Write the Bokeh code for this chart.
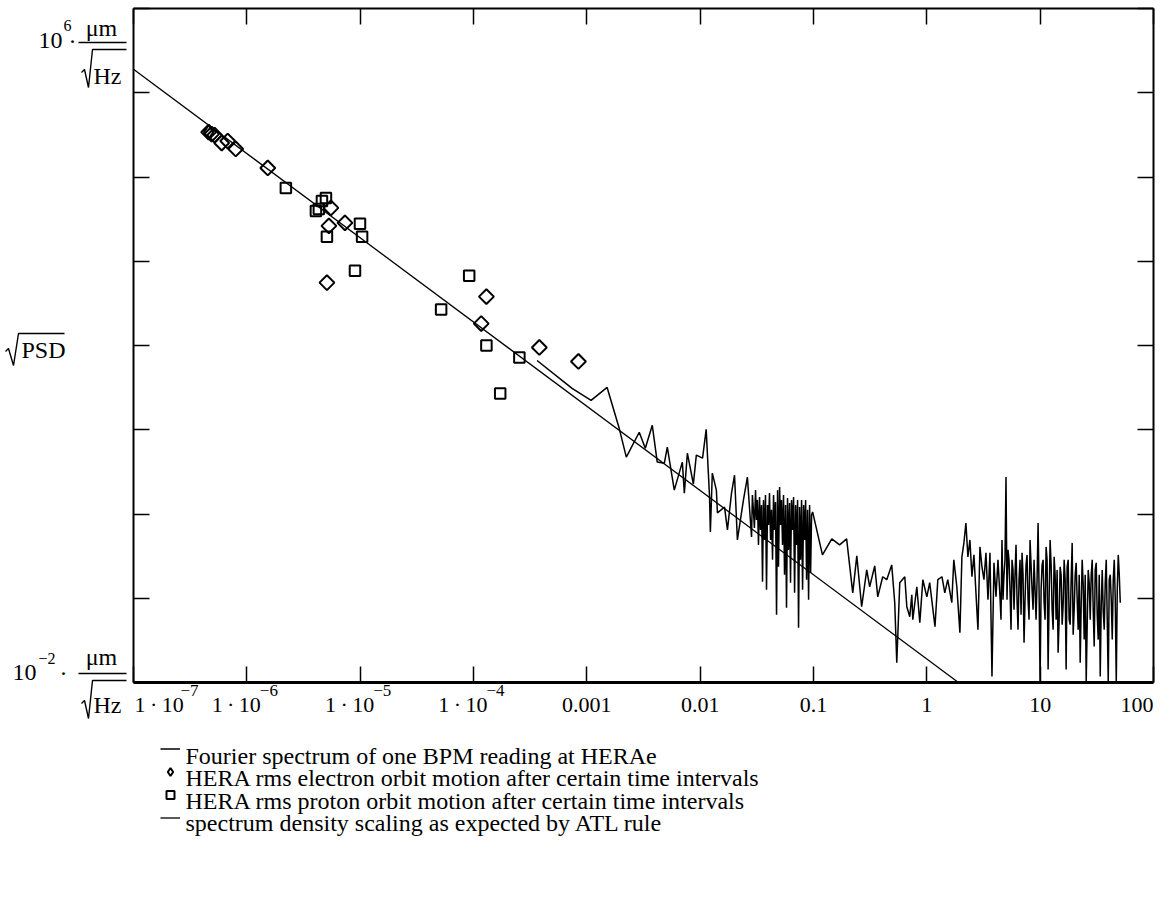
import math
from bokeh.plotting import figure
from bokeh.models import (Range1d, LogAxis, FixedTicker, Label, Legend, LegendItem,
                          PolyAnnotation)
from bokeh.embed import file_html
from bokeh.resources import INLINE

FONT = "Liberation Serif"

# ---------------- data ----------------
X_TICKS = [1e-7, 1e-6, 1e-5, 1e-4, 1e-3, 1e-2, 1e-1, 1, 10, 100]
X_TICK_BASE = ["1\u2009·\u200910", "1\u2009·\u200910", "1\u2009·\u200910", "1\u2009·\u200910",
               "0.001", "0.01", "0.1", "1", "10", "100"]
X_TICK_EXP = ["\u22127", "\u22126", "\u22125", "\u22124", "", "", "", "", "", ""]
Y_TICKS = [1e-2, 1e-1, 1, 10, 100, 1e3, 1e4, 1e5, 1e6]

# Fourier spectrum of one BPM reading (Hz, um/sqrt(Hz))
SPEC_FREQ = [
    3.64e-4, 7.41e-4, 1.09e-3, 1.51e-3, 1.93e-3, 2.23e-3, 2.90e-3, 3.28e-3, 3.78e-3, 4.18e-3,
    4.83e-3, 5.13e-3, 5.91e-3, 6.96e-3, 7.25e-3, 7.71e-3, 8.71e-3, 9.25e-3, 0.0105, 0.0113,
    0.0121, 0.0123, 0.0128, 0.0139, 0.0142, 0.0164, 0.0174, 0.0189, 0.0201, 0.0213,
    0.0241, 0.0261, 0.0284,
    0.0289, 0.0295, 0.0301, 0.0308, 0.0314, 0.0320, 0.0327, 0.0334, 0.0341, 0.0348,
    0.0355, 0.0362, 0.0370, 0.0377, 0.0385, 0.0393, 0.0401, 0.0409, 0.0418, 0.0426,
    0.0435, 0.0444, 0.0453, 0.0462, 0.0472, 0.0482, 0.0491, 0.0502, 0.0512, 0.0522,
    0.0533, 0.0544, 0.0555, 0.0567, 0.0578, 0.0590, 0.0602, 0.0615, 0.0627, 0.0640,
    0.0654, 0.0667, 0.0681, 0.0695, 0.0709, 0.0724, 0.0738, 0.0754, 0.0769, 0.0785,
    0.0801, 0.0818, 0.0834, 0.0852, 0.0869, 0.0887, 0.0905, 0.0924, 0.0943, 0.0962,
    0.0982,
    0.120, 0.145, 0.170, 0.196, 0.222, 0.241, 0.266, 0.295,
    0.313, 0.347, 0.369, 0.408, 0.443, 0.490, 0.521, 0.543, 0.577, 0.639,
    0.666, 0.707, 0.737, 0.752, 0.816, 0.867, 0.922, 1.00, 1.06, 1.18,
    1.25, 1.36, 1.44, 1.53, 1.66, 1.73, 1.84,
    1.958, 2.039, 2.124, 2.212, 2.304, 2.400, 2.500, 2.604, 2.712, 2.825,
    2.942, 3.064, 3.192, 3.324, 3.463, 3.606, 3.756, 3.912, 4.075, 4.244,
    4.420, 4.511, 4.604, 4.699, 4.796, 4.894, 4.995, 5.098, 5.203, 5.310,
    5.419, 5.531, 5.644, 5.760, 5.879, 6.000, 6.123, 6.249, 6.378, 6.509,
    6.643, 6.780, 6.919, 7.061, 7.207, 7.355, 7.506, 7.661, 7.818, 7.979,
    8.143, 8.311, 8.482, 8.656, 8.834, 9.016, 9.202, 9.391, 9.584, 9.781,
    9.983, 10.19, 10.40, 10.61, 10.83, 11.05, 11.28, 11.51, 11.75, 11.99,
    12.24, 12.49, 12.75, 13.01, 13.28, 13.55, 13.83, 14.11, 14.40, 14.70,
    15.00, 15.31, 15.63, 15.95, 16.28, 16.61, 16.95, 17.30, 17.66, 18.02,
    18.39, 18.77, 19.16, 19.55, 19.95, 20.37, 20.78, 21.21, 21.65, 22.10,
    22.55, 23.01, 23.48, 23.97, 24.46, 24.97, 25.48, 26.00, 26.54, 27.09,
    27.64, 28.21, 28.79, 29.38, 29.98, 30.60, 31.23, 31.87, 32.53, 33.20,
    33.88, 34.58, 35.29, 36.02, 36.75, 37.51, 38.28, 39.07, 39.87, 40.69,
    41.53, 42.39, 43.26, 44.15, 45.05, 45.98, 46.93, 47.89, 48.88, 49.89,
    50.91,
]
SPEC_AMP = [
    66.4, 31.0, 22.3, 31.8, 10.4, 4.73, 9.34, 6.04, 11.3, 4.13,
    4.01, 6.21, 1.92, 4.13, 1.77, 5.27, 2.27, 4.99, 4.60, 10.1,
    1.59, 0.612, 3.06, 1.92, 1.03, 1.21, 0.647, 1.77, 2.89, 0.492,
    1.47, 2.74, 0.534,
    1.68, 1.12, 0.683, 1.92, 0.849, 1.47, 0.430, 1.59, 0.647, 1.28,
    0.157, 1.47, 0.492, 1.68, 0.126, 1.28, 0.741, 1.77, 0.492, 1.12,
    0.286, 1.68, 0.647, 1.39, 0.0638, 1.92, 0.236, 2.09, 0.741, 1.47,
    0.430, 1.68, 0.190, 1.28, 0.0772, 1.55, 0.375, 1.35, 0.153, 1.47,
    0.647, 1.59, 0.116, 1.28, 0.430, 1.47, 0.0448, 1.21, 0.286, 1.47,
    0.126, 1.28, 0.492, 1.47, 0.166, 1.12, 0.0960, 1.28, 0.200, 0.973,
    1.06,
    0.327, 0.506, 0.430, 0.506, 0.116, 0.318, 0.0793, 0.217,
    0.137, 0.242, 0.104, 0.180, 0.166, 0.249, 0.0885, 0.0172, 0.153, 0.180,
    0.0793, 0.0604, 0.110, 0.0557, 0.137, 0.0513, 0.166, 0.104, 0.153, 0.0460,
    0.166, 0.180, 0.116, 0.166, 0.0885, 0.286, 0.137,
    0.0391, 0.310, 0.454, 0.783, 0.310, 0.492, 0.180, 0.327, 0.116, 0.0424,
    0.407, 0.236, 0.166, 0.346, 0.0960, 0.346, 0.0118, 0.263, 0.104, 0.286,
    0.104, 0.0557, 0.492, 0.0960, 0.190, 0.286, 2.74, 0.0960, 0.375, 0.286,
    0.126, 0.0424, 0.286, 0.217, 0.0731, 0.190, 0.430, 0.0960, 0.0424, 0.166,
    0.286, 0.0638, 0.346, 0.190, 0.0297, 0.0960, 0.249, 0.327, 0.0960, 0.0557,
    0.492, 0.249, 0.126, 0.0731, 0.286, 0.126, 0.0557, 0.166, 0.783, 0.126,
    0.0101, 0.126, 0.249, 0.286, 0.0885, 0.0557, 0.407, 0.286, 0.0143, 0.0960,
    0.492, 0.249, 0.0731, 0.0424, 0.310, 0.190, 0.0557, 0.217, 0.0226, 0.0557,
    0.236, 0.190, 0.0486, 0.0838, 0.286, 0.166, 0.0143, 0.236, 0.286, 0.0557,
    0.0486, 0.166, 0.454, 0.0370, 0.0731, 0.190, 0.263, 0.0960, 0.0424, 0.190,
    0.0172, 0.0838, 0.286, 0.145, 0.0323, 0.190, 0.0101, 0.0486, 0.217, 0.153,
    0.0557, 0.190, 0.286, 0.0731, 0.0267, 0.217, 0.263, 0.0638, 0.0323, 0.190,
    0.0118, 0.0838, 0.217, 0.0692, 0.0424, 0.153, 0.286, 0.0557, 0.0101, 0.166,
    0.190, 0.0960, 0.0323, 0.166, 0.286, 0.0960, 0.0101, 0.126, 0.327, 0.190,
    0.0885,
]

# HERA rms electron orbit motion (diamonds)
E_FREQ = [4.60e-7, 4.89e-7, 5.20e-7, 6.00e-7, 6.78e-7, 7.98e-7, 1.53e-6, 5.52e-6,
          7.34e-6, 5.30e-6, 5.09e-6, 1.30e-4, 1.17e-4, 3.81e-4, 8.43e-4]
E_AMP = [3.41e4, 3.23e4, 3.14e4, 2.53e4, 2.67e4, 2.15e4, 1.28e4, 4296,
         2854, 2630, 557, 380, 182, 94.7, 64.7]

# HERA rms proton orbit motion (squares)
P_FREQ = [2.21e-6, 4.99e-6, 4.60e-6, 4.32e-6, 4.07e-6, 9.96e-6, 1.04e-5, 5.09e-6,
          9.00e-6, 9.16e-5, 5.18e-5, 1.30e-4, 2.54e-4, 1.72e-4]
P_AMP = [7408, 5641, 5197, 4181, 3959, 2778, 1949, 1949,
         772, 673, 267, 100, 72.1, 27.0]

# spectrum density scaling as expected by ATL rule (end points)
ATL_FREQ = [1e-7, 1.9]
ATL_AMP = [1.9e5, 0.01]

LEGEND_LABELS = [
    "Fourier spectrum of one BPM reading at HERAe",
    "HERA rms electron orbit motion after certain time intervals",
    "HERA rms proton orbit motion after certain time intervals",
    "spectrum density scaling as expected by ATL rule",
]

# ---------------- layout (pixels) ----------------
CANVAS_W, CANVAS_H = 1158, 862
FRAME_L, FRAME_R, FRAME_T, FRAME_B = 133, 1153, 8, 682
TXT = 8  # baseline correction for labels

lx0, lx1 = math.log10(X_TICKS[0]), math.log10(X_TICKS[-1])
ly0, ly1 = math.log10(Y_TICKS[0]), math.log10(Y_TICKS[-1])
dec_x = (FRAME_R - FRAME_L) / (lx1 - lx0)
dec_y = (FRAME_B - FRAME_T) / (ly1 - ly0)
x_range = Range1d(10 ** (lx0 - FRAME_L / dec_x), 10 ** (lx1 + (CANVAS_W - FRAME_R) / dec_x))
y_range = Range1d(10 ** (ly0 - (CANVAS_H - FRAME_B) / dec_y), 10 ** (ly1 + FRAME_T / dec_y))


def px_x(px):
    return 10 ** (lx0 + (px - FRAME_L) / dec_x)


def px_y(py):
    return 10 ** (ly1 - (py - FRAME_T) / dec_y)


p = figure(x_axis_type="log", y_axis_type="log",
           x_axis_location=None, y_axis_location=None,
           x_range=x_range, y_range=y_range,
           width=CANVAS_W, height=CANVAS_H, min_border=0,
           output_backend="svg", toolbar_location=None)
p.grid.visible = False
p.outline_line_color = None
p.background_fill_color = "white"
p.border_fill_color = "white"


def make_axis(ticks, fixed, bounds):
    ax = LogAxis(fixed_location=fixed, bounds=bounds)
    ax.ticker = FixedTicker(ticks=ticks, minor_ticks=[])
    ax.major_tick_in = 16
    ax.major_tick_out = 0
    ax.minor_tick_in = 0
    ax.minor_tick_out = 0
    ax.major_label_text_font_size = "1px"
    ax.major_label_text_alpha = 0
    ax.major_label_standoff = 0
    ax.axis_line_width = 2
    ax.axis_line_color = "black"
    ax.major_tick_line_width = 1.5
    ax.major_tick_line_color = "black"
    return ax


xb = (X_TICKS[0], X_TICKS[-1])
yb = (Y_TICKS[0], Y_TICKS[-1])
ax_bottom = make_axis(X_TICKS, Y_TICKS[0], xb)
ax_bottom.axis_line_width = 3
p.add_layout(ax_bottom, "below")
p.add_layout(make_axis(X_TICKS, Y_TICKS[-1], xb), "above")
p.add_layout(make_axis(Y_TICKS, X_TICKS[0], yb), "left")
p.add_layout(make_axis(Y_TICKS, X_TICKS[-1], yb), "right")

r_spec = p.line(SPEC_FREQ, SPEC_AMP, line_color="black", line_width=1.5)
r_e = p.scatter(E_FREQ, E_AMP, marker="square", angle=math.pi / 4, size=10.5,
                fill_color=None, line_color="black", line_width=2)
# diamond-shaped key for the legend, drawn on the first electron point
r_e_key = p.scatter(E_FREQ[:1], E_AMP[:1], marker="diamond", size=14,
                    fill_color=None, line_color="black", line_width=2)
r_p = p.scatter(P_FREQ, P_AMP, marker="square", size=10.5,
                fill_color=None, line_color="black", line_width=2)
r_atl = p.line(ATL_FREQ, ATL_AMP, line_color="black", line_width=1.3)

# legend keys (the texts are placed as labels next to them)
legend = Legend(
    items=[LegendItem(label=" ", renderers=[r_spec]),
           LegendItem(label=" ", renderers=[r_e_key]),
           LegendItem(label=" ", renderers=[r_p]),
           LegendItem(label=" ", renderers=[r_atl])],
    location=(160, 33), orientation="vertical",
    label_text_font=FONT, label_text_font_size="1px",
    glyph_width=20, glyph_height=23, label_height=23, label_width=1,
    spacing=0, padding=0, margin=0, label_standoff=0,
    border_line_alpha=0, background_fill_alpha=0)
p.add_layout(legend)


def add_text(x, y, text, dx, dy, size, align="left"):
    p.add_layout(Label(x=x, y=y, x_offset=dx, y_offset=dy + TXT, text=text,
                       text_font=FONT, text_font_size=f"{size}px",
                       text_align=align, text_baseline="alphabetic",
                       text_color="black"))


def stroke(points, width=1.5):
    """Open polyline in page pixels (retraced so the closing edge is invisible)."""
    pts = list(points) + list(reversed(points[1:-1]))
    p.add_layout(PolyAnnotation(xs=[px_x(a) for a, b in pts], ys=[px_y(b) for a, b in pts],
                                xs_units="data", ys_units="data",
                                fill_alpha=0, line_color="black", line_alpha=1.0,
                                line_width=width))


x0 = X_TICKS[0]
bot = Y_TICKS[0]
top = Y_TICKS[-1]
mid = Y_TICKS[4]

# legend texts
for i, txt in enumerate(LEGEND_LABELS):
    add_text(x0, bot, txt, 52, -81 - 22.6 * i, 24, "left")

# x tick labels
for i, (v, base, exp) in enumerate(zip(X_TICKS, X_TICK_BASE, X_TICK_EXP)):
    if exp:
        if i == 0:
            add_text(v, bot, base, 1, -30, 22, "left")
            add_text(v, bot, exp, 47, -16, 17, "left")
        else:
            add_text(v, bot, base, 14, -30, 22, "right")
            add_text(v, bot, exp, 13, -16, 17, "left")
    else:
        if i == len(X_TICKS) - 1:
            add_text(v, bot, base, 0, -30, 22, "right")
        else:
            add_text(v, bot, base, 0, -30, 22, "center")

# y limit labels  10^6 um/sqrt(Hz) and 10^-2 um/sqrt(Hz)
add_text(x0, top, "10", -71, -40, 24, "right")
add_text(x0, top, "6", -70, -25, 16, "left")
add_text(x0, top, "·", -61, -40, 24, "center")
add_text(x0, top, "μm", -32, -27, 24, "center")
add_text(x0, top, "Hz", -40, -75, 24, "left")
stroke([(78, 42), (126, 42)], 1.4)
stroke([(81, 72), (84, 69), (88, 87), (92, 49), (126, 49)], 1.4)

add_text(x0, bot, "10", -97, 2, 24, "right")
add_text(x0, bot, "\u22122", -95, 16, 16, "left")
add_text(x0, bot, "·", -70, 2, 24, "center")
add_text(x0, bot, "μm", -32, 18, 24, "center")
add_text(x0, bot, "Hz", -40, -30, 24, "left")
stroke([(78, 673), (126, 673)], 1.4)
stroke([(81, 703), (84, 700), (88, 718), (92, 680), (126, 680)], 1.4)

# y axis title  sqrt(PSD)
add_text(x0, mid, "PSD", -112, -12, 24, "left")
stroke([(5, 351), (8, 348), (13, 365), (18, 333), (64, 333)], 1.4)

open("out.html", "w").write(file_html(p, INLINE))
